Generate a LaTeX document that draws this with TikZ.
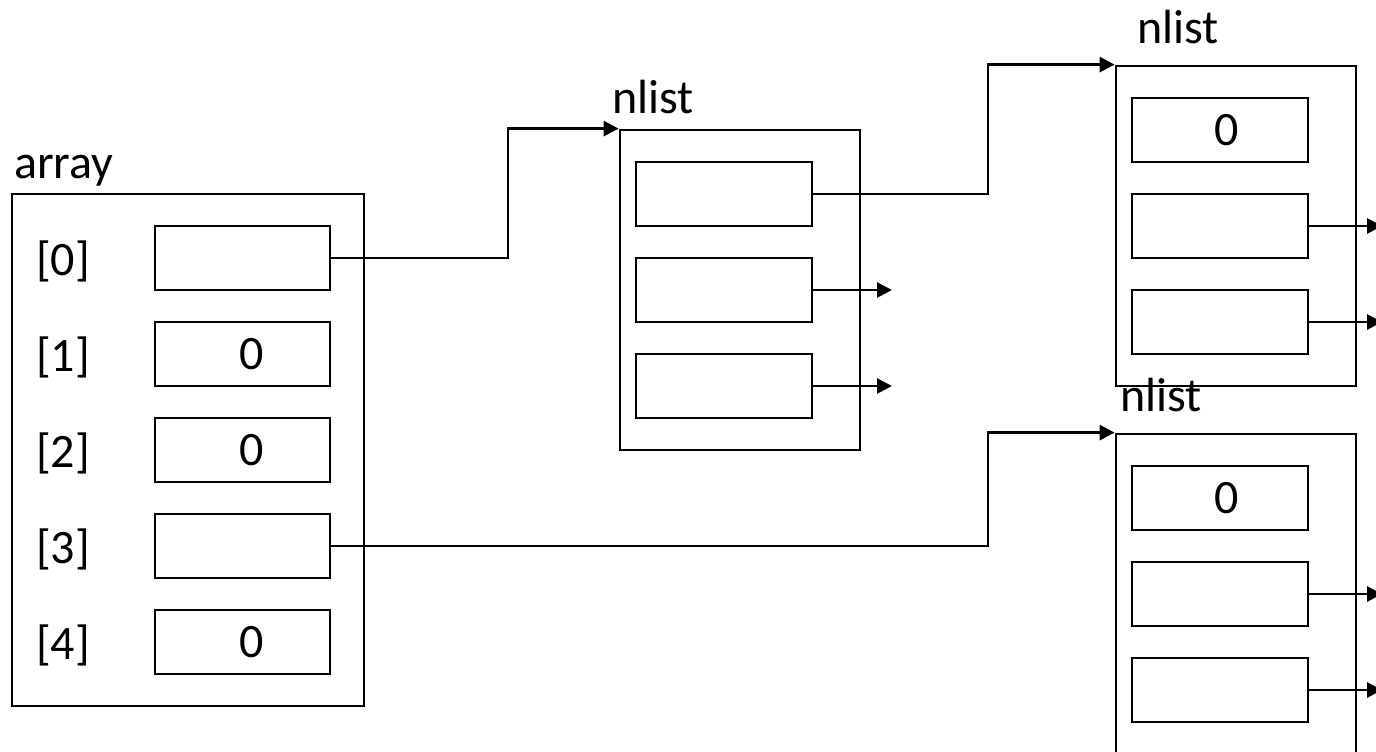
\documentclass[tikz,border=0pt]{standalone}
\usepackage{fontspec}
\setmainfont{Carlito}
\usetikzlibrary{arrows.meta}
\begin{document}
\begin{tikzpicture}[x=1pt,y=-1pt,
  every node/.style={font=\fontsize{48}{56}\selectfont},
  outerbox/.style={draw,line width=2.8pt,inner sep=0pt,minimum width=#1},
  cellbox/.style={draw,line width=2.8pt,inner sep=0pt,minimum width=175pt,minimum height=64pt},
  lbl/.style={inner sep=0pt,anchor=base west},
  idx/.style={inner sep=0pt,anchor=west},
  val/.style={inner sep=0pt},
  arr/.style={line width=2.8pt,-{Triangle[length=15pt,width=15pt]}}]
\useasboundingbox (0,0) rectangle (1376,752);
\clip (0,0) rectangle (1376,752);
% array
\node[outerbox=352pt,minimum height=512pt] (arr) at (188,450) {};
\node[lbl] (arrlbl) at (14,178) {array};
\foreach \i/\y in {0/258,1/354,2/450,3/546,4/642}{
  \node[cellbox] (a\i) at (242.5,\y) {};
  \node[idx] (i\i) at (36,\y+3) {[\i]};
}
\node[val] (v1) at (252,354) {0};
\node[val] (v2) at (252,450) {0};
\node[val] (v4) at (252,642) {0};
% nlist 1
\node[outerbox=240pt,minimum height=320pt] (n1) at (740,290) {};
\node[lbl] (n1lbl) at (612,113) {nlist};
\node[cellbox,minimum width=176pt] (c11) at (724,194) {};
\node[cellbox,minimum width=176pt] (c12) at (724,290) {};
\node[cellbox,minimum width=176pt] (c13) at (724,386) {};
\coordinate (e12) at (892,290);
\coordinate (e13) at (892,386);
\draw[arr] (c12.east) -- (e12);
\draw[arr] (c13.east) -- (e13);
% nlist 2
\node[outerbox=240pt,minimum height=320pt] (n2) at (1236,226) {};
\node[lbl] (n2lbl) at (1137,44) {nlist};
\node[cellbox,minimum width=176pt] (c21) at (1220,130) {};
\node[cellbox,minimum width=176pt] (c22) at (1220,226) {};
\node[cellbox,minimum width=176pt] (c23) at (1220,322) {};
\node[val] (v21) at (1227,130) {0};
\coordinate (e22) at (1382,226);
\coordinate (e23) at (1382,322);
\draw[arr] (c22.east) -- (e22);
\draw[arr] (c23.east) -- (e23);
% nlist 3
\node[outerbox=240pt,minimum height=400pt] (n3) at (1236,634) {};
\node[lbl] (n3lbl) at (1120,411) {nlist};
\node[cellbox,minimum width=176pt] (c31) at (1220,498) {};
\node[cellbox,minimum width=176pt] (c32) at (1220,594) {};
\node[cellbox,minimum width=176pt] (c33) at (1220,690) {};
\node[val] (v31) at (1227,498) {0};
\coordinate (e32) at (1382,594);
\coordinate (e33) at (1382,690);
\draw[arr] (c32.east) -- (e32);
\draw[arr] (c33.east) -- (e33);
% connectors
\coordinate (k1) at (508,200);
\coordinate (k2) at (988,130);
\coordinate (k3) at (988,500);
\draw[arr] (a0.east) -| (k1) |- (n1.north west);
\draw[arr] (c11.east) -| (k2) |- (n2.north west);
\draw[arr] (a3.east) -| (k3) |- (n3.north west);
\end{tikzpicture}
\end{document}
